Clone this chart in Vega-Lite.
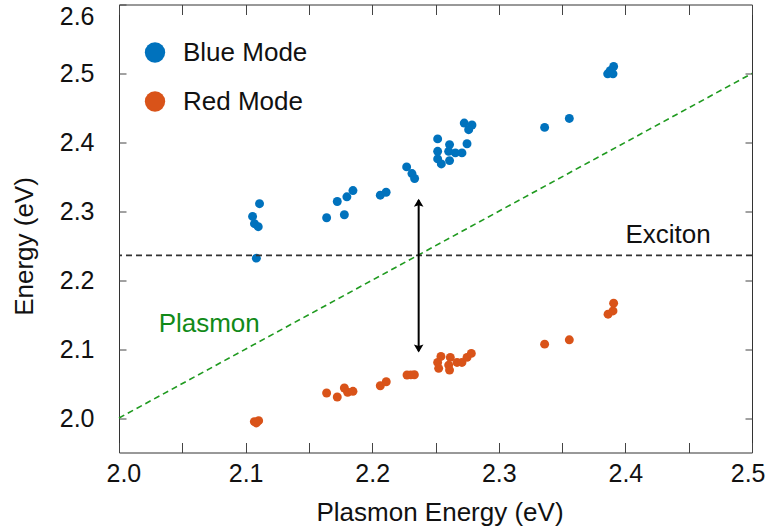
{
  "$schema": "https://vega.github.io/schema/vega-lite/v6.json",
  "width": 633,
  "height": 448,
  "autosize": {"type": "none"},
  "padding": {"left": 119, "top": 4.5, "right": 13, "bottom": 78.5},
  "background": "white",
  "config": {
    "view": {"stroke": "#333333", "strokeWidth": 1},
    "font": "Liberation Sans",
    "axis": {"grid": false, "domain": false, "tickColor": "#444444", "tickWidth": 1, "labelFont": "Liberation Sans", "labelFontSize": 25, "labelColor": "#111111", "titleFont": "Liberation Sans", "titleFontSize": 26, "titleFontWeight": "normal", "titleColor": "#111111"}
  },
  "resolve": {"axis": {"x": "independent", "y": "independent"}},
  "layer": [
    {
      "data": {"values": [
        {"plasmon": 2.111, "energy": 2.311, "mode": "Blue Mode"},
        {"plasmon": 2.1055, "energy": 2.2925, "mode": "Blue Mode"},
        {"plasmon": 2.107, "energy": 2.282, "mode": "Blue Mode"},
        {"plasmon": 2.110, "energy": 2.2776, "mode": "Blue Mode"},
        {"plasmon": 2.1085, "energy": 2.232, "mode": "Blue Mode"},
        {"plasmon": 2.164, "energy": 2.2906, "mode": "Blue Mode"},
        {"plasmon": 2.1724, "energy": 2.3142, "mode": "Blue Mode"},
        {"plasmon": 2.178, "energy": 2.295, "mode": "Blue Mode"},
        {"plasmon": 2.180, "energy": 2.321, "mode": "Blue Mode"},
        {"plasmon": 2.1848, "energy": 2.330, "mode": "Blue Mode"},
        {"plasmon": 2.2064, "energy": 2.3233, "mode": "Blue Mode"},
        {"plasmon": 2.211, "energy": 2.3276, "mode": "Blue Mode"},
        {"plasmon": 2.2272, "energy": 2.3644, "mode": "Blue Mode"},
        {"plasmon": 2.2314, "energy": 2.3547, "mode": "Blue Mode"},
        {"plasmon": 2.2335, "energy": 2.3475, "mode": "Blue Mode"},
        {"plasmon": 2.2517, "energy": 2.405, "mode": "Blue Mode"},
        {"plasmon": 2.2517, "energy": 2.387, "mode": "Blue Mode"},
        {"plasmon": 2.2517, "energy": 2.376, "mode": "Blue Mode"},
        {"plasmon": 2.2546, "energy": 2.3687, "mode": "Blue Mode"},
        {"plasmon": 2.2611, "energy": 2.3967, "mode": "Blue Mode"},
        {"plasmon": 2.2604, "energy": 2.387, "mode": "Blue Mode"},
        {"plasmon": 2.2611, "energy": 2.3735, "mode": "Blue Mode"},
        {"plasmon": 2.2657, "energy": 2.3847, "mode": "Blue Mode"},
        {"plasmon": 2.2709, "energy": 2.3847, "mode": "Blue Mode"},
        {"plasmon": 2.2749, "energy": 2.398, "mode": "Blue Mode"},
        {"plasmon": 2.2727, "energy": 2.428, "mode": "Blue Mode"},
        {"plasmon": 2.2788, "energy": 2.4252, "mode": "Blue Mode"},
        {"plasmon": 2.2762, "energy": 2.4184, "mode": "Blue Mode"},
        {"plasmon": 2.3362, "energy": 2.4217, "mode": "Blue Mode"},
        {"plasmon": 2.3557, "energy": 2.4347, "mode": "Blue Mode"},
        {"plasmon": 2.386, "energy": 2.4994, "mode": "Blue Mode"},
        {"plasmon": 2.3907, "energy": 2.510, "mode": "Blue Mode"},
        {"plasmon": 2.388, "energy": 2.504, "mode": "Blue Mode"},
        {"plasmon": 2.3902, "energy": 2.4994, "mode": "Blue Mode"},
        {"plasmon": 2.1069, "energy": 1.9948, "mode": "Red Mode"},
        {"plasmon": 2.1103, "energy": 1.9962, "mode": "Red Mode"},
        {"plasmon": 2.1085, "energy": 1.9929, "mode": "Red Mode"},
        {"plasmon": 2.164, "energy": 2.0363, "mode": "Red Mode"},
        {"plasmon": 2.1724, "energy": 2.0305, "mode": "Red Mode"},
        {"plasmon": 2.178, "energy": 2.0436, "mode": "Red Mode"},
        {"plasmon": 2.1806, "energy": 2.0373, "mode": "Red Mode"},
        {"plasmon": 2.1848, "energy": 2.0388, "mode": "Red Mode"},
        {"plasmon": 2.2064, "energy": 2.0469, "mode": "Red Mode"},
        {"plasmon": 2.2111, "energy": 2.0527, "mode": "Red Mode"},
        {"plasmon": 2.2275, "energy": 2.0624, "mode": "Red Mode"},
        {"plasmon": 2.2333, "energy": 2.0628, "mode": "Red Mode"},
        {"plasmon": 2.2305, "energy": 2.0626, "mode": "Red Mode"},
        {"plasmon": 2.2543, "energy": 2.0894, "mode": "Red Mode"},
        {"plasmon": 2.2517, "energy": 2.0807, "mode": "Red Mode"},
        {"plasmon": 2.2525, "energy": 2.0721, "mode": "Red Mode"},
        {"plasmon": 2.2617, "energy": 2.088, "mode": "Red Mode"},
        {"plasmon": 2.2604, "energy": 2.0768, "mode": "Red Mode"},
        {"plasmon": 2.2611, "energy": 2.0696, "mode": "Red Mode"},
        {"plasmon": 2.267, "energy": 2.0807, "mode": "Red Mode"},
        {"plasmon": 2.2709, "energy": 2.0807, "mode": "Red Mode"},
        {"plasmon": 2.2749, "energy": 2.088, "mode": "Red Mode"},
        {"plasmon": 2.2783, "energy": 2.0938, "mode": "Red Mode"},
        {"plasmon": 2.3362, "energy": 2.1072, "mode": "Red Mode"},
        {"plasmon": 2.3557, "energy": 2.1135, "mode": "Red Mode"},
        {"plasmon": 2.3863, "energy": 2.1507, "mode": "Red Mode"},
        {"plasmon": 2.3902, "energy": 2.1554, "mode": "Red Mode"},
        {"plasmon": 2.3907, "energy": 2.1666, "mode": "Red Mode"}
      ]},
      "mark": {"type": "point", "filled": true, "size": 80, "opacity": 1, "shape": "circle"},
      "encoding": {
        "x": {"field": "plasmon", "type": "quantitative", "scale": {"domain": [2.0, 2.5], "nice": false, "zero": false},
          "axis": {"orient": "bottom", "values": [2.0, 2.05, 2.1, 2.15, 2.2, 2.25, 2.3, 2.35, 2.4, 2.45, 2.5], "tickSize": -10, "labelPadding": 19,
            "labelExpr": "abs(datum.value*10 - round(datum.value*10)) < 0.01 ? format(datum.value, '.1f') : ''", "labelFlush": true, "labelFlushOffset": 13,
            "title": "Plasmon Energy (eV)", "titleX": 320.5, "titleY": 68, "titleBaseline": "alphabetic", "titleAlign": "center"}},
        "y": {"field": "energy", "type": "quantitative", "scale": {"domain": [1.95, 2.6], "nice": false, "zero": false},
          "axis": {"orient": "left", "values": [2.0, 2.1, 2.2, 2.3, 2.4, 2.5, 2.6], "tickSize": -7, "labelPadding": 32, "format": ".1f", "labelFlush": true, "labelFlushOffset": 0,
            "title": "Energy (eV)", "titleX": -87, "titleY": 241.5, "titleAngle": 270, "titleBaseline": "alphabetic", "titleAlign": "center"}},
        "color": {"field": "mode", "type": "nominal", "scale": {"domain": ["Blue Mode", "Red Mode"], "range": ["#0072BD", "#D95319"]},
          "legend": {"orient": "none", "legendX": 23, "legendY": 35, "title": null, "symbolType": "circle", "symbolSize": 415, "symbolStrokeWidth": 0, "symbolOpacity": 1,
            "labelFont": "Liberation Sans", "labelFontSize": 26, "labelColor": "#111111", "labelOffset": 15, "rowPadding": 23, "padding": 0}}
      }
    },
    {
      "data": {"values": [{"plasmon": 2.0, "energy": 2.0}, {"plasmon": 2.5, "energy": 2.5}]},
      "mark": {"type": "line", "color": "#1f9a1f", "strokeWidth": 1.6, "strokeDash": [6, 4]},
      "encoding": {
        "x": {"field": "plasmon", "type": "quantitative", "scale": {"domain": [2.0, 2.5], "nice": false, "zero": false},
          "axis": {"orient": "top", "values": [2.0, 2.05, 2.1, 2.15, 2.2, 2.25, 2.3, 2.35, 2.4, 2.45, 2.5], "tickSize": -10, "labels": false, "title": null}},
        "y": {"field": "energy", "type": "quantitative", "scale": {"domain": [1.95, 2.6], "nice": false, "zero": false},
          "axis": {"orient": "right", "values": [2.0, 2.1, 2.2, 2.3, 2.4, 2.5], "tickSize": -7, "labels": false, "title": null}}
      }
    },
    {
      "data": {"values": [{"energy": 2.236}]},
      "mark": {"type": "rule", "color": "#333333", "strokeWidth": 1.6, "strokeDash": [6, 4]},
      "encoding": {
        "y": {"field": "energy", "type": "quantitative", "scale": {"domain": [1.95, 2.6], "nice": false, "zero": false}, "axis": null}
      }
    },
    {
      "data": {"values": [{"plasmon": 2.2367, "top": 2.316, "bottom": 2.097}]},
      "mark": {"type": "rule", "color": "#000000", "strokeWidth": 2},
      "encoding": {
        "x": {"field": "plasmon", "type": "quantitative", "scale": {"domain": [2.0, 2.5], "nice": false, "zero": false}, "axis": null},
        "y": {"field": "top", "type": "quantitative", "scale": {"domain": [1.95, 2.6], "nice": false, "zero": false}, "axis": null},
        "y2": {"field": "bottom"}
      }
    },
    {
      "data": {"values": [{"plasmon": 2.2367, "energy": 2.3181, "dir": "up"}, {"plasmon": 2.2367, "energy": 2.0952, "dir": "down"}]},
      "mark": {"type": "point", "filled": true, "size": 256, "color": "#000000", "opacity": 1},
      "encoding": {
        "x": {"field": "plasmon", "type": "quantitative", "scale": {"domain": [2.0, 2.5], "nice": false, "zero": false}, "axis": null},
        "y": {"field": "energy", "type": "quantitative", "scale": {"domain": [1.95, 2.6], "nice": false, "zero": false}, "axis": null},
        "shape": {"field": "dir", "type": "nominal", "scale": {"domain": ["up", "down"], "range": ["M0,0L-0.6,1L0,0.8L0.6,1Z", "M0,0L-0.6,-1L0,-0.8L0.6,-1Z"]}, "legend": null}
      }
    },
    {
      "data": {"values": [{"plasmon": 2.4337, "energy": 2.2534, "label": "Exciton"}]},
      "mark": {"type": "text", "font": "Liberation Sans", "fontSize": 26, "color": "#111111", "align": "center", "baseline": "alphabetic"},
      "encoding": {
        "x": {"field": "plasmon", "type": "quantitative", "scale": {"domain": [2.0, 2.5], "nice": false, "zero": false}, "axis": null},
        "y": {"field": "energy", "type": "quantitative", "scale": {"domain": [1.95, 2.6], "nice": false, "zero": false}, "axis": null},
        "text": {"field": "label"}
      }
    },
    {
      "data": {"values": [{"plasmon": 2.0313, "energy": 2.125, "label": "Plasmon"}]},
      "mark": {"type": "text", "font": "Liberation Sans", "fontSize": 26, "color": "#118a18", "align": "left", "baseline": "alphabetic"},
      "encoding": {
        "x": {"field": "plasmon", "type": "quantitative", "scale": {"domain": [2.0, 2.5], "nice": false, "zero": false}, "axis": null},
        "y": {"field": "energy", "type": "quantitative", "scale": {"domain": [1.95, 2.6], "nice": false, "zero": false}, "axis": null},
        "text": {"field": "label"}
      }
    }
  ]
}
